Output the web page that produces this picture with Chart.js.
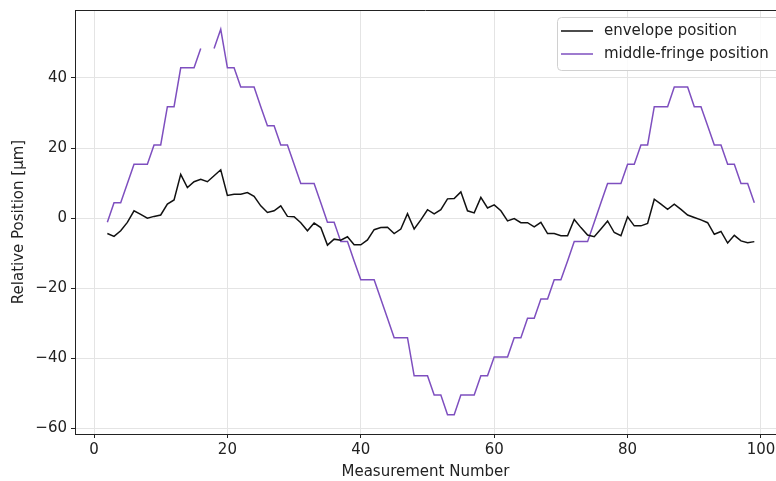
<!DOCTYPE html>
<html>
<head>
<meta charset="utf-8">
<script src="https://cdn.jsdelivr.net/npm/chart.js@4.4.1/dist/chart.umd.min.js"></script>
<style>
  html, body { margin: 0; padding: 0; background: #fff; }
  #wrap { width: 776px; height: 481px; }
</style>
</head>
<body>
<div id="wrap"><canvas id="posChart"></canvas></div>
<script>
// measurement numbers 2..99
var measurementNumbers = [];
for (var n = 2; n <= 99; n++) measurementNumbers.push(n);

var envelopePosition = [
  -4.4, -5.2, -3.6, -1.2, 2.1, 1.1, 0.0, 0.5, 0.9, 4.0,
  5.2, 12.5, 8.7, 10.4, 11.1, 10.4, 12.1, 13.8, 6.5, 6.8,
  6.8, 7.3, 6.2, 3.5, 1.6, 2.1, 3.5, 0.5, 0.4, -1.3,
  -3.6, -1.4, -2.7, -7.7, -6.0, -6.3, -5.3, -7.6, -7.6, -6.2,
  -3.3, -2.7, -2.6, -4.4, -3.1, 1.3, -3.1, -0.5, 2.4, 1.2,
  2.4, 5.5, 5.6, 7.5, 2.1, 1.5, 5.9, 2.9, 3.8, 2.1,
  -0.8, -0.1, -1.3, -1.3, -2.5, -1.2, -4.4, -4.4, -5.0, -5.0,
  -0.4, -2.7, -4.8, -5.3, -3.1, -0.8, -4.1, -5.0, 0.4, -2.2,
  -2.2, -1.5, 5.4, 4.0, 2.5, 4.0, 2.5, 0.9, 0.2, -0.5,
  -1.3, -4.6, -3.8, -7.1, -4.9, -6.5, -7.0, -6.7
];

var middleFringePosition = [
  -1.2, 4.4, 4.4, 9.9, 15.4, 15.4, 15.4, 20.9, 20.9, 31.8,
  31.8, 42.9, 42.9, 42.9, 48.4, null, 48.4, 53.9, 42.9, 42.9,
  37.4, 37.4, 37.4, 31.8, 26.4, 26.4, 20.9, 20.9, 15.4, 9.9,
  9.9, 9.9, 4.4, -1.2, -1.2, -6.7, -6.7, -12.2, -17.6, -17.6,
  -17.6, -23.1, -28.6, -34.1, -34.1, -34.1, -45.0, -45.0, -45.0, -50.5,
  -50.5, -56.1, -56.1, -50.5, -50.5, -50.5, -45.0, -45.0, -39.6, -39.6,
  -39.6, -34.1, -34.1, -28.6, -28.6, -23.1, -23.1, -17.6, -17.6, -12.2,
  -6.7, -6.7, -6.7, -1.2, 4.4, 9.9, 9.9, 9.9, 15.4, 15.4,
  20.9, 20.9, 31.8, 31.8, 31.8, 37.4, 37.4, 37.4, 31.8, 31.8,
  26.4, 20.9, 20.9, 15.4, 15.4, 9.9, 9.9, 4.4
];

var xTicks = [0, 20, 40, 60, 80, 100];
var yTicks = [-60, -40, -20, 0, 20, 40];
var seriesNames = ['envelope position', 'middle-fringe position'];
var seriesColors = ['#111111', '#7e4fbf'];

var FONT = '"DejaVu Sans", sans-serif';

function toPoints(ys) {
  return measurementNumbers.map(function (x, i) { return { x: x, y: ys[i] }; });
}

function minusSign(v) {
  return String(v).replace('-', '\u2212');
}

// matplotlib-like legend inside the axes + top spine
var boxPlugin = {
  id: 'boxPlugin',
  afterDraw: function (chart) {
    var ctx = chart.ctx;
    var area = chart.chartArea;
    ctx.save();
    ctx.strokeStyle = '#222';
    ctx.lineWidth = 1;
    ctx.beginPath();
    ctx.moveTo(area.left, area.top + 0.5);
    ctx.lineTo(area.right, area.top + 0.5);
    ctx.stroke();

    var bx = 557, by = 17, bw = 240, bh = 53;
    ctx.fillStyle = 'rgba(255,255,255,0.85)';
    ctx.strokeStyle = '#d0d0d0';
    ctx.beginPath();
    ctx.roundRect(bx + 0.5, by + 0.5, bw, bh, 4);
    ctx.fill();
    ctx.stroke();

    ctx.font = '15px ' + FONT;
    ctx.textBaseline = 'middle';
    ctx.textAlign = 'left';
    for (var i = 0; i < seriesNames.length; i++) {
      var ly = by + 14 + i * 23;
      ctx.strokeStyle = seriesColors[i];
      ctx.lineWidth = 1.5;
      ctx.beginPath();
      ctx.moveTo(561, ly);
      ctx.lineTo(593, ly);
      ctx.stroke();
      ctx.fillStyle = '#222';
      ctx.fillText(seriesNames[i], 604, ly);
    }
    ctx.restore();
  }
};

var ctx = document.getElementById('posChart');
var chart = new Chart(ctx, {
  type: 'line',
  data: {
    datasets: [{
      label: seriesNames[0],
      data: toPoints(envelopePosition),
      borderColor: seriesColors[0],
      borderWidth: 1.5,
      pointRadius: 0,
      tension: 0,
    }, {
      label: seriesNames[1],
      data: toPoints(middleFringePosition),
      borderColor: seriesColors[1],
      borderWidth: 1.5,
      pointRadius: 0,
      tension: 0,
      spanGaps: false,
    }]
  },
  options: {
    responsive: true,
    maintainAspectRatio: false,
    animation: false,
    layout: { padding: { top: 10, right: 0, left: 0, bottom: 0 } },
    plugins: {
      legend: { display: false },
      tooltip: { enabled: false },
    },
    scales: {
      x: {
        type: 'linear',
        min: -2.85,
        max: 102.25,
        afterBuildTicks: function (axis) {
          axis.ticks = xTicks.map(function (v) { return { value: v }; });
        },
        afterFit: function (axis) {
          axis.height = 47;
          axis.paddingLeft = 0;
          axis.paddingRight = 0;
        },
        grid: { color: '#e4e4e4', tickColor: '#222', tickLength: 4, drawTicks: true },
        border: { color: '#222', width: 1 },
        ticks: {
          color: '#222', font: { family: FONT, size: 15 }, padding: 3,
          maxRotation: 0,
          callback: function (v) { return minusSign(v); }
        },
        title: {
          display: true, text: 'Measurement Number', color: '#222',
          font: { family: FONT, size: 15 }, padding: { top: 0, bottom: 0 }
        }
      },
      y: {
        type: 'linear',
        min: -61.6,
        max: 59.4,
        afterBuildTicks: function (axis) {
          axis.ticks = yTicks.map(function (v) { return { value: v }; });
        },
        afterFit: function (axis) {
          axis.width = 75;
          axis.paddingTop = 0;
          axis.paddingBottom = 0;
        },
        grid: { color: '#e4e4e4', tickColor: '#222', tickLength: 4, drawTicks: true },
        border: { color: '#222', width: 1 },
        ticks: {
          color: '#222', font: { family: FONT, size: 15 }, padding: 4,
          callback: function (v) { return minusSign(v); }
        },
        title: {
          display: true, text: 'Relative Position [\u00b5m]', color: '#222',
          font: { family: FONT, size: 15 }, padding: { top: 10, bottom: 0 }
        }
      }
    }
  },
  plugins: [boxPlugin]
});
</script>
</body>
</html>
